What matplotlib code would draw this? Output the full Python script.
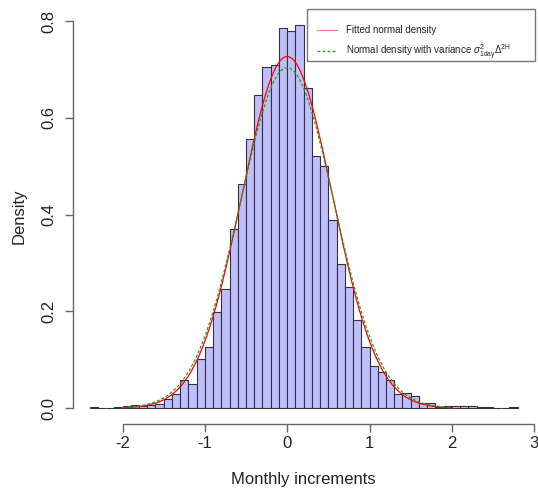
import numpy as np
import matplotlib
matplotlib.use("Agg")
import matplotlib.pyplot as plt
from matplotlib.lines import Line2D
from matplotlib.patches import Rectangle

plt.rcParams['font.family'] = ['Liberation Sans', 'DejaVu Sans']
plt.rcParams['mathtext.fontset'] = 'custom'
plt.rcParams['mathtext.rm'] = 'Liberation Sans'
plt.rcParams['mathtext.it'] = 'Liberation Sans:italic'
plt.rcParams['mathtext.bf'] = 'Liberation Sans:bold'
plt.rcParams['mathtext.sf'] = 'Liberation Sans'

# ---- data ----
bin_left = -2.4
bin_width = 0.1
density = [0.002, 0.0, 0.0, 0.002, 0.004, 0.0065, 0.0055, 0.0065, 0.0095, 0.018,
           0.029, 0.059, 0.050, 0.101, 0.126, 0.199, 0.246, 0.370, 0.463, 0.556,
           0.647, 0.706, 0.709, 0.786, 0.779, 0.792, 0.661, 0.522, 0.500, 0.389,
           0.298, 0.251, 0.182, 0.126, 0.088, 0.075, 0.058, 0.030, 0.032, 0.026,
           0.0097, 0.0115, 0.002, 0.0055, 0.0052, 0.004, 0.004, 0.003, 0.002, 0.0,
           0.0, 0.002]

fit_mean, fit_sd = 0.0, 0.549        # fitted normal density
model_mean, model_sd = 0.0, 0.567    # sigma_1day^2 * Delta^(2H)
curve_range = (-2.0, 2.0)

x_ticks = [-2, -1, 0, 1, 2, 3]
y_ticks = [0.0, 0.2, 0.4, 0.6, 0.8]
y_ticklabels = ["0.0", "0.2", "0.4", "0.6", "0.8"]

legend_labels = ["Fitted normal density",
                 r"Normal density with variance $\sigma^{2}_{\mathrm{1day}}\Delta^{\mathrm{2H}}$"]

# ---- figure ----
W, H = 538, 492
fig = plt.figure(figsize=(W / 100, H / 100), dpi=100)
left, right, top, bottom = 72.5, 534.8, 9.6, 423.5
ax = fig.add_axes([left / W, 1 - bottom / H, (right - left) / W, (bottom - top) / H])

edges = bin_left + bin_width * np.arange(len(density) + 1)
ax.bar(edges[:-1], density, width=bin_width, align='edge',
       color='#BFBFFF', edgecolor='#333333', linewidth=0.8)

def npdf(x, m, s):
    return np.exp(-0.5 * ((x - m) / s) ** 2) / (s * np.sqrt(2 * np.pi))

xs = np.linspace(curve_range[0], curve_range[1], 301)
ax.plot(xs, npdf(xs, fit_mean, fit_sd), color='#FF0000', lw=0.9)
ax.plot(xs, npdf(xs, model_mean, model_sd), color='#1E9E1E', lw=0.9,
        linestyle=(0, (2.4, 1.6)))

xr = edges[-1] - edges[0]
ax.set_xlim(edges[0] - 0.04 * xr, edges[-1] + 0.04 * xr)
ymax = max(density)
ax.set_ylim(-0.04 * ymax, ymax * 1.04)

for s in ['top', 'right']:
    ax.spines[s].set_visible(False)
for s in ['left', 'bottom']:
    ax.spines[s].set_color('#666666')
    ax.spines[s].set_linewidth(1.0)
ax.spines['bottom'].set_bounds(x_ticks[0], x_ticks[-1])
ax.spines['left'].set_bounds(y_ticks[0], y_ticks[-1])

ax.set_xticks(x_ticks)
ax.set_xticklabels([str(t) if t >= 0 else "-" + str(-t) for t in x_ticks])
ax.set_yticks(y_ticks)
ax.set_yticklabels(y_ticklabels, rotation=90, va='center')
ax.tick_params(axis='both', direction='out', length=5.8, width=1.0, color='#666666',
               labelsize=12, labelcolor='#222222')
ax.tick_params(axis='x', pad=3.0)
ax.tick_params(axis='y', pad=6)

ax.set_xlabel("Monthly increments", fontsize=12, color='#222222')
ax.set_ylabel("Density", fontsize=12, color='#222222')
ax.xaxis.set_label_coords(0.5, -0.116)
ax.yaxis.set_label_coords(-0.099, 0.5)

# legend box (R style) and entries
box_l, box_r, box_t, box_b = 307.3, 535.0, 9.3, 61.0
ax.add_patch(Rectangle((box_l / W, 1 - box_b / H), (box_r - box_l) / W, (box_b - box_t) / H,
                       transform=fig.transFigure, clip_on=False, facecolor='white',
                       edgecolor='#777777', linewidth=1.0, zorder=4))
handles = [Line2D([], [], color='#FF8080', lw=0.9),
           Line2D([], [], color='#1E9E1E', lw=0.9, linestyle=(0, (2.4, 1.6)))]
leg = ax.legend(handles, legend_labels, loc='upper left',
                bbox_to_anchor=(317.0 / W, 1 - 25.0 / H), bbox_transform=fig.transFigure,
                borderaxespad=0, borderpad=0, fontsize=7, frameon=False,
                handlelength=2.1, handletextpad=0.9, labelspacing=0.75)
leg.set_zorder(5)
for t in leg.get_texts():
    t.set_color('#222222')

fig.savefig("out.png", dpi=100)
